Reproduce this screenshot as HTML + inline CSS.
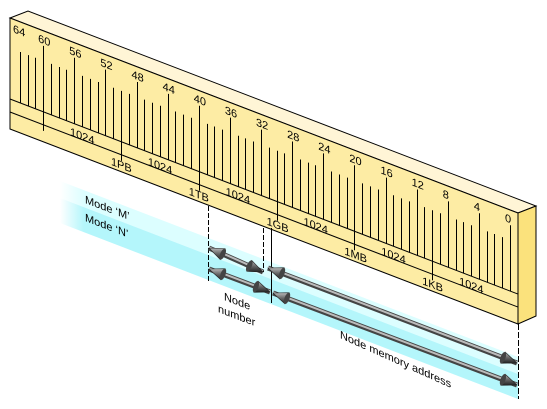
<!DOCTYPE html>
<html><head><meta charset="utf-8"><style>
html,body{margin:0;padding:0;background:#fff;}
svg{display:block;font-family:"Liberation Sans",sans-serif;}
</style></head><body>
<svg id="fig" width="547" height="409" viewBox="0 0 547 409" xmlns="http://www.w3.org/2000/svg">
<defs>
<linearGradient id="bandM" gradientUnits="userSpaceOnUse" x1="60" x2="140" y1="0" y2="0"><stop offset="0" stop-color="#dcfeff" stop-opacity="0"/><stop offset="0.3" stop-color="#dcfeff"/><stop offset="1" stop-color="#dcfeff"/></linearGradient>
<linearGradient id="bandN" gradientUnits="userSpaceOnUse" x1="60" x2="140" y1="0" y2="0"><stop offset="0" stop-color="#b4f6fb" stop-opacity="0"/><stop offset="0.3" stop-color="#b4f6fb"/><stop offset="1" stop-color="#b4f6fb"/></linearGradient>
<linearGradient id="cone" x1="0" x2="0" y1="0" y2="1"><stop offset="0" stop-color="#bbb"/><stop offset="0.5" stop-color="#666"/><stop offset="1" stop-color="#222"/></linearGradient>
</defs>
<g id="bands">
<polygon points="60,181 518,357 518,374 60,198" fill="url(#bandM)"/>
<polygon points="60,198 518,374 518,399 60,223" fill="url(#bandN)"/>
</g>
<g id="ruler" stroke="#000" stroke-width="1">
<polygon points="10,18 28,11 536,206 518,213" fill="#fff5d6"/>
<polygon points="10,18 518,213 518,324 10,129" fill="#fdeca4"/>
<polygon points="518,213 536,206 536,316 518,324" fill="#fbe27c"/>
</g>
<g id="ticks"></g>
<g id="guides" stroke="#000" stroke-width="1" fill="none">
<line x1="208.5" y1="206" x2="208.5" y2="281" stroke-dasharray="5,2"/>
<line x1="263.5" y1="228" x2="263.5" y2="272" stroke-dasharray="5,2"/>
<line x1="271.5" y1="228" x2="271.5" y2="303"/>
<line x1="518.5" y1="324" x2="518.5" y2="399" stroke-dasharray="6,2"/>
</g>
<g id="arrows"></g>
<g id="labels" font-size="11" fill="#000">
<text transform="matrix(1,0.384,0,1,85,203)">Mode ‘M’</text>
<text transform="matrix(1,0.384,0,1,85,221)">Mode ‘N’</text>
<text transform="matrix(1,0.384,0,1,224,300)">Node</text>
<text transform="matrix(1,0.384,0,1,218,312)">number</text>
<text transform="matrix(1,0.45,0,1,340,338)">Node memory address</text>
</g>
</svg>
<script>
const bits = [64,63,62,61,60,59,58,57,56,55,54,53,52,51,50,49,48,47,46,45,44,43,42,41,40,39,38,37,36,35,34,33,32,31,30,29,28,27,26,25,24,23,22,21,20,19,18,17,16,15,14,13,12,11,10,9,8,7,6,5,4,3,2,1,0];
const bitLabels = ["64","60","56","52","48","44","40","36","32","28","24","20","16","12","8","4","0"];
const labelBits = [64,60,56,52,48,44,40,36,32,28,24,20,16,12,8,4,0];
const sizeBits = [50,40,30,20,10];
const sizeLabels = ["1PB","1TB","1GB","1MB","1KB"];
const spanBits = [55,45,35,25,15,5];
const spanLabels = ["1024","1024","1024","1024","1024","1024"];
const NS = "http://www.w3.org/2000/svg";
const X0 = 12, X64 = 510, SLOPE = 0.384;
function bx(b){ return X0 + (64 - b) * (X64 - X0) / 64; }
function topY(x){ return 18 + (x - 10) * SLOPE; }
function skew(x,y){ return 'matrix(1,'+SLOPE+',0,1,'+x+','+y+')'; }
const tg = document.getElementById('ticks');
function mk(tag, attrs, parent){ const e=document.createElementNS(NS,tag); for(const k in attrs) e.setAttribute(k,attrs[k]); parent.appendChild(e); return e; }
[81,94].forEach(function(off){
  const l = mk('line',{x1:10,y1:18+off,x2:518,y2:topY(518)+off,stroke:'#000','stroke-width':1},tg);
  
  
});
bits.forEach(function(b){
  if (b === 64) return;
  const x = Math.round(bx(b)) + 0.5;
  const t = topY(x);
  const major = b % 4 === 0;
  let y1 = t + (major ? 15 : 30);
  let y2 = t + 81;
  if (b === 60) y2 = t + 94;
  if (b % 10 === 0 && b !== 0) y2 = t + 100;
  const l = mk('line',{x1:x,y1:y1,x2:x,y2:y2,stroke:'#000','stroke-width':1},tg);
  
  
});
labelBits.forEach(function(b,i){
  const x = bx(b) + (b===64?1:-5);
  const t = mk('text',{transform:skew(x, topY(x)+13),'font-size':11},tg);
  t.textContent = bitLabels[i];
  
  
});
spanBits.forEach(function(b,i){
  const x = bx(b) - 12;
  const t = mk('text',{transform:skew(x, topY(x)+94),'font-size':11},tg);
  t.textContent = spanLabels[i];
  
  
});
sizeBits.forEach(function(b,i){
  const x = bx(b) - 10;
  const t = mk('text',{transform:skew(x, topY(x)+108),'font-size':11},tg);
  t.textContent = sizeLabels[i];
  
  
});
const ag = document.getElementById('arrows');
function head(x,y,ang,parent){
  const L=15,W=6;
  const c=Math.cos(ang), s=Math.sin(ang);
  const bxp = x - c*L, byp = y - s*L;
  const p = [x+','+y, (bxp - s*W)+','+(byp + c*W), (bxp + s*W)+','+(byp - c*W)].join(' ');
  mk('polygon',{points:p,fill:'url(#cone)',stroke:'#222','stroke-width':0.6},parent);
  mk('ellipse',{cx:bxp,cy:byp,rx:2.5,ry:W,transform:'rotate('+(ang*180/Math.PI)+' '+bxp+' '+byp+')',fill:'#444'},parent);
}
function arrow(x1,y1,x2,y2,name){
  const g = mk('g',{},ag);
  
  
  mk('line',{x1:x1,y1:y1,x2:x2,y2:y2,stroke:'#444','stroke-width':5},g);
  mk('line',{x1:x1,y1:y1-0.7,x2:x2,y2:y2-0.7,stroke:'#bbb','stroke-width':2},g);
  const a = Math.atan2(y2-y1,x2-x1);
  head(x2,y2,a,g);
  head(x1,y1,a+Math.PI,g);
}
arrow(209,248,263,272,'mode-m-node-arrow');
arrow(268,268,517,363,'mode-m-address-arrow');
arrow(209,269,270,292,'mode-n-node-arrow');
arrow(273,293,517,385,'mode-n-address-arrow');
</script>
</body></html>
